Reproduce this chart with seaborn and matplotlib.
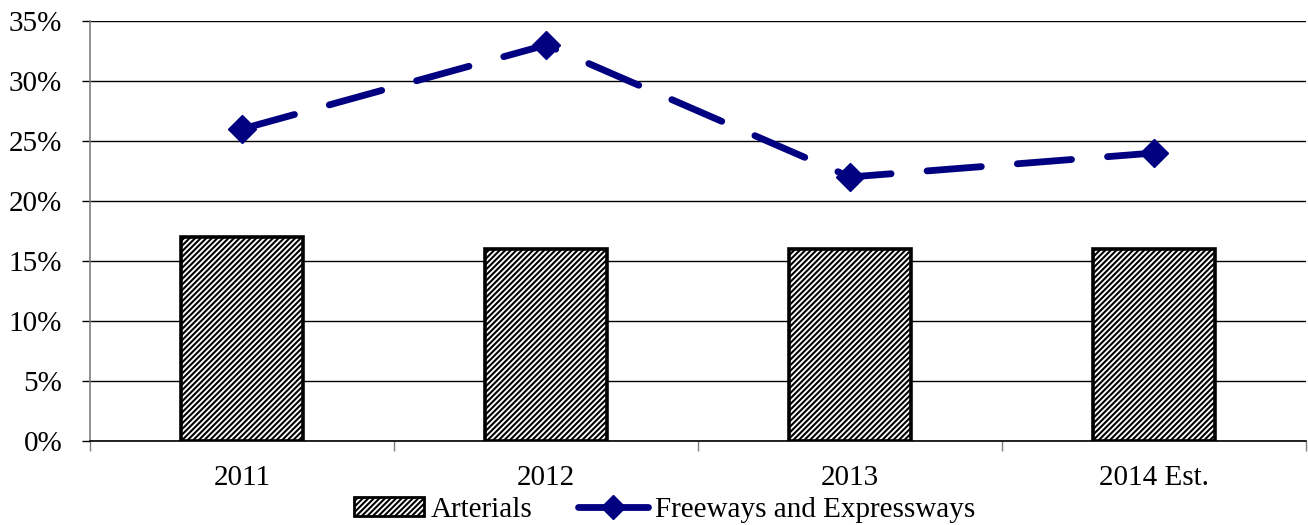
import matplotlib
matplotlib.use("Agg")
import matplotlib.pyplot as plt
import seaborn as sns
import pandas as pd
import numpy as np
from matplotlib.ticker import FuncFormatter, FixedLocator
from matplotlib.patches import Patch
from matplotlib.lines import Line2D

years = ["2011", "2012", "2013", "2014 Est."]
arterials = [17, 16, 16, 16]
freeways = [26, 33, 22, 24]
y_ticks = [0, 5, 10, 15, 20, 25, 30, 35]

NAVY = "#000080"
HATCH = "//////"

sns.set_theme(style="white")
plt.rcParams["font.family"] = ["Liberation Serif", "DejaVu Serif"]
plt.rcParams["text.color"] = "black"
plt.rcParams["xtick.color"] = "black"
plt.rcParams["ytick.color"] = "black"
plt.rcParams["hatch.linewidth"] = 1.5
plt.rcParams["hatch.color"] = "#443d28"

df = pd.DataFrame({"year": years, "Arterials": arterials, "Freeways": freeways})

fig = plt.figure(figsize=(13.08, 5.25), dpi=100)
ax = fig.add_axes([0.0688, 0.16, 0.9297, 0.80])

sns.barplot(data=df, x="year", y="Arterials", ax=ax, width=0.4,
            color="white", edgecolor="black", linewidth=2.6, saturation=1)
for p in ax.patches:
    p.set_hatch(HATCH)
    p.set_zorder(3)

xpos = np.arange(len(years))
ax.plot(xpos, df["Freeways"], color=NAVY, lw=4.9, dashes=(8, 5.3),
        dash_capstyle="round", solid_capstyle="round", marker="D",
        markersize=14.5, zorder=4)

ax.set_xlim(-0.5, len(years) - 0.5)
ax.set_ylim(0, 35)
ax.yaxis.set_major_locator(FixedLocator(y_ticks))
ax.yaxis.set_major_formatter(FuncFormatter(lambda v, _: f"{v:.0f}%"))
ax.grid(axis="y", color="black", lw=1.0, zorder=0)
ax.set_axisbelow(True)
ax.set_xlabel("")
ax.set_ylabel("")

ax.set_xticks(xpos)
ax.set_xticklabels(years)
ax.set_xticks(np.arange(-0.5, len(years)), minor=True)
ax.tick_params(axis="x", which="major", length=0, pad=17, labelsize=21, labelcolor="black")
ax.tick_params(axis="x", which="minor", length=7, width=1, color="#808080", bottom=True)
ax.tick_params(axis="y", length=6, width=1, color="black", labelsize=21, pad=14,
               left=True, labelcolor="black")

for s in ["top", "right"]:
    ax.spines[s].set_visible(False)
ax.spines["left"].set_color("#808080")
ax.spines["left"].set_linewidth(1.2)
ax.spines["bottom"].set_color("black")
ax.spines["bottom"].set_linewidth(1.2)

handles = [
    Patch(facecolor="white", edgecolor="black", hatch=HATCH, linewidth=2, label="Arterials"),
    Line2D([0], [0], color=NAVY, lw=4.9, marker="D", markersize=12,
           solid_capstyle="round", label="Freeways and Expressways"),
]
fig.legend(handles=handles, loc="center", bbox_to_anchor=(0.508, 0.029), ncol=2,
           frameon=False, fontsize=21, handlelength=2.4, handletextpad=0.25,
           columnspacing=1.55, handleheight=0.62, borderpad=0, borderaxespad=0,
           labelcolor="black")

fig.savefig("out.png", dpi=100)
